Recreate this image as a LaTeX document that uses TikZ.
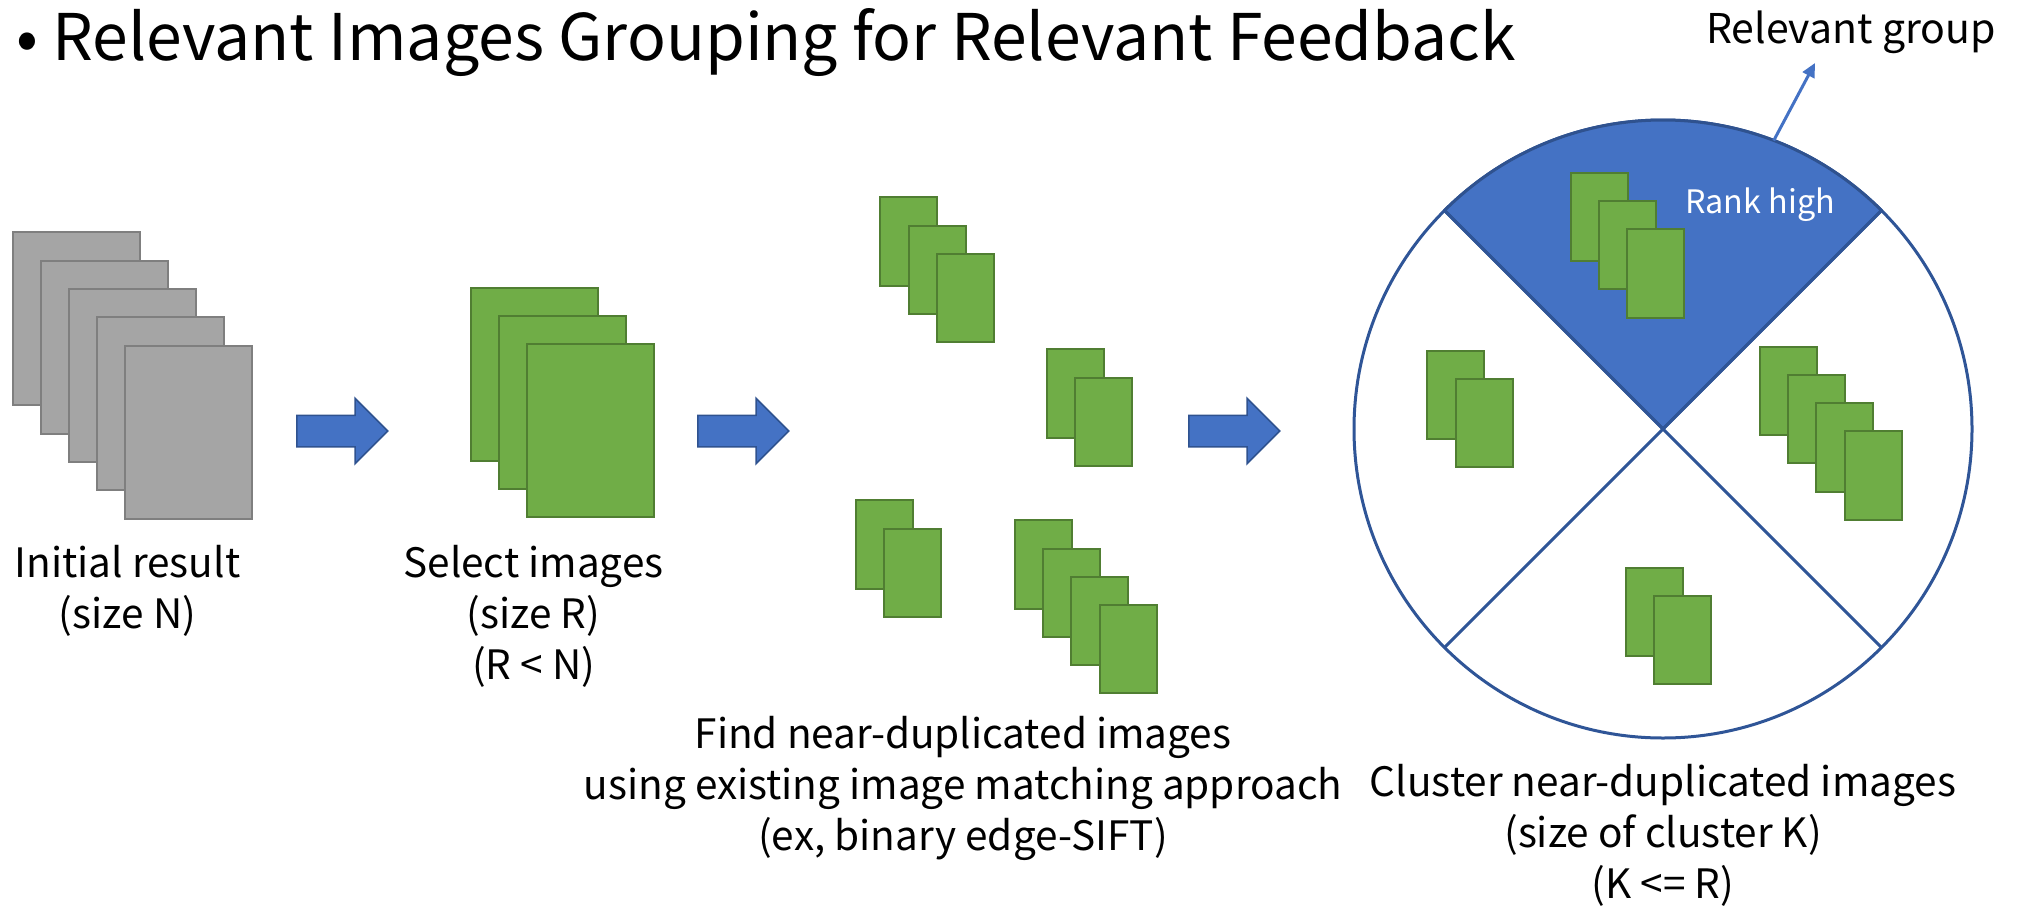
\documentclass[tikz,border=0pt]{standalone}
\usepackage{fontspec}
\setmainfont{Noto Sans CJK KR}
\usetikzlibrary{shapes.arrows,arrows.meta}

\definecolor{imggreen}{HTML}{70AD47}
\definecolor{imggreenline}{HTML}{507E32}
\definecolor{imggray}{HTML}{A5A5A5}
\definecolor{imggrayline}{HTML}{7F7F7F}
\definecolor{accblue}{HTML}{4472C4}
\definecolor{accblueline}{HTML}{2F528F}
\definecolor{ringblue}{HTML}{2F5597}

\tikzset{
  bigimg/.style={rectangle, anchor=north west, minimum width=127pt, minimum height=173pt,
    inner sep=0pt, outer sep=0pt, line width=2pt},
  grayimg/.style={bigimg, draw=imggrayline, fill=imggray},
  greenimg/.style={bigimg, draw=imggreenline, fill=imggreen},
  smallimg/.style={rectangle, anchor=north west, minimum width=57pt, minimum height=88.5pt,
    inner sep=0pt, outer sep=0pt, line width=2pt, draw=imggreenline, fill=imggreen},
  blockarrow/.style={single arrow, draw=accblueline, fill=accblue, line width=1.5pt,
    minimum height=91pt, inner sep=0pt, text height=15pt, text depth=15pt,
    single arrow head extend=17pt, anchor=tail},
  caption/.style={align=center, anchor=base, inner sep=0pt, font=\fontsize{40.5}{51}\selectfont},
}

\begin{document}
\begin{tikzpicture}[x=1pt, y=1pt]
\useasboundingbox (0,0) rectangle (2019,-908);

% title
\node[anchor=base west, inner sep=0pt, font=\fontsize{64.3}{76}\selectfont] (title) at (16,-60.5)
  {• Relevant Images Grouping for Relevant Feedback};

% initial result
\foreach \i in {0,...,4}
  \node[grayimg] (ini\i) at ({12.5+28.1*\i},{-232.3-28.3*\i}) {};
\node[caption] (inilabel) at (127.5,-628) {Initial result\\(size N)};

% selected images
\foreach \i in {0,1,2}
  \node[greenimg] (sel\i) at ({471+28*\i},{-288.3-28*\i}) {};
\node[caption] (sellabel) at (533.5,-679) {Select images\\(size R)\\(R < N)};

% near-duplicated groups
\foreach \g/\x/\y/\n in {dupa/880.3/197.3/3, dupb/1046.7/349.3/2, dupc/856/500.3/2, dupd/1015/520.3/4}
  \foreach \i in {1,...,\n}
    \node[smallimg] (\g\i) at ({\x+28.2*(\i-1)},{-\y-28.2*(\i-1)}) {};
\node[caption] (findlabel) at (963,-850)
  {Find near-duplicated images\\using existing image matching approach\\(ex, binary edge-SIFT)};

\node[blockarrow] (arr1) at (296,-431) {};
\node[blockarrow] (arr2) at (697,-431) {};
\node[blockarrow] (arr3) at (1188,-431) {};

% clusters
\node[circle, draw=ringblue, line width=3pt, fill=white, minimum size=618pt,
  inner sep=0pt, outer sep=0pt] (clu) at (1663,-429) {};
\filldraw[fill=accblue, draw=accblueline, line width=3pt, line join=round]
  (clu.center) -- (clu.135) arc[start angle=135, end angle=45, radius=309pt] -- cycle;
\draw[ringblue, line width=3pt] (clu.135) -- (clu.-45) (clu.45) -- (clu.-135);

\foreach \g/\x/\y/\n in {cla/1570.7/172.7/3, clb/1427.3/350.7/2, clc/1760/346.7/4, cld/1626/567.7/2}
  \foreach \i in {1,...,\n}
    \node[smallimg] (\g\i) at ({\x+28.2*(\i-1)},{-\y-28.2*(\i-1)}) {};

\node[anchor=base, inner sep=0pt, text=white, font=\fontsize{32.3}{38}\selectfont] (rank) at (1760,-213) {Rank high};
\node[caption] (clulabel) at (1663,-898)
  {Cluster near-duplicated images\\(size of cluster K)\\(K <= R)};

% relevant group
\node[anchor=base, inner sep=0pt, font=\fontsize{41}{48}\selectfont] (relgroup) at (1851,-43) {Relevant group};
\coordinate (rgtip) at (1815,-63);
\draw[accblue, line width=3pt, -{Triangle[length=14pt,width=13pt]}] (clu.69) -- (rgtip);
\end{tikzpicture}
\end{document}
